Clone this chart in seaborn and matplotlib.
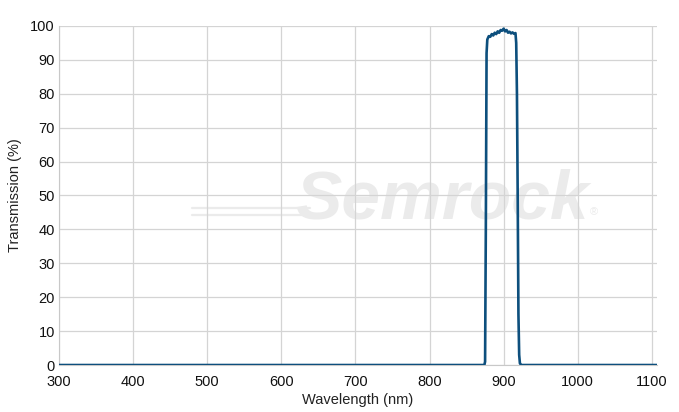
import pandas as pd
import seaborn as sns
import matplotlib.pyplot as plt

# transmission curve (nm, %)
wavelength = [300, 600, 870, 874, 875, 876, 877, 878, 879, 880, 882, 884, 886, 888,
              890, 892, 894, 896, 898, 900, 902, 904, 906, 908, 910, 912, 914,
              916, 917, 918, 919, 920, 921, 922, 924, 1000, 1107]
transmission = [0, 0, 0, 0, 1, 40, 92, 96, 96.5, 97, 96.8, 97.6, 97.2, 98.0,
                97.6, 98.4, 98.0, 98.8, 98.6, 99.2, 98.4, 98.8, 98.0, 98.3, 97.8, 98.1, 97.7,
                97.9, 95, 80, 50, 15, 3, 0.5, 0, 0, 0]

x_ticks = [300, 400, 500, 600, 700, 800, 900, 1000, 1100]
y_ticks = [0, 10, 20, 30, 40, 50, 60, 70, 80, 90, 100]

df = pd.DataFrame({"Wavelength (nm)": wavelength, "Transmission (%)": transmission})

sns.set_style("whitegrid", {"grid.color": "#d4d4d4", "axes.edgecolor": "#c8c8c8"})
plt.rcParams['font.family'] = ['Liberation Sans', 'DejaVu Sans']

fig = plt.figure(figsize=(6.79, 4.12), dpi=100)
ax = fig.add_axes([0.0869, 0.114, 0.8807, 0.823])

# faint watermark behind the curve
wm = '#ebebeb'
ax.text(0.64, 0.485, "Semrock", transform=ax.transAxes, fontsize=50, fontstyle='italic',
        fontweight='bold', color=wm, ha='center', va='center', zorder=0.5)
ax.text(0.895, 0.452, "®", transform=ax.transAxes, fontsize=8, color=wm,
        ha='center', va='center', zorder=0.5)
for yy in [0.463, 0.442]:
    ax.plot([0.222, 0.42], [yy, yy], transform=ax.transAxes, color=wm,
            linewidth=1.6, zorder=0.5)

sns.lineplot(data=df, x="Wavelength (nm)", y="Transmission (%)", color="#0d4f7d",
             linewidth=1.9, ax=ax, zorder=3)

ax.set_xlim(300, 1107)
ax.set_ylim(0, 100)
ax.set_xticks(x_ticks)
ax.set_yticks(y_ticks)
ax.tick_params(labelsize=10.5, colors='#111111', length=0)
ax.tick_params(axis='x', pad=7)
ax.tick_params(axis='y', pad=3)
ax.grid(True, linewidth=0.9)
for side in ['top', 'right']:
    ax.spines[side].set_visible(False)
ax.spines['left'].set_color('#c8c8c8')
ax.spines['bottom'].set_color('#c8c8c8')
ax.set_xlabel("Wavelength (nm)", fontsize=10.5, color='#222222', labelpad=3)
ax.set_ylabel("Transmission (%)", fontsize=10.5, color='#222222', labelpad=6)

fig.savefig("out.png", dpi=100, facecolor='white')
